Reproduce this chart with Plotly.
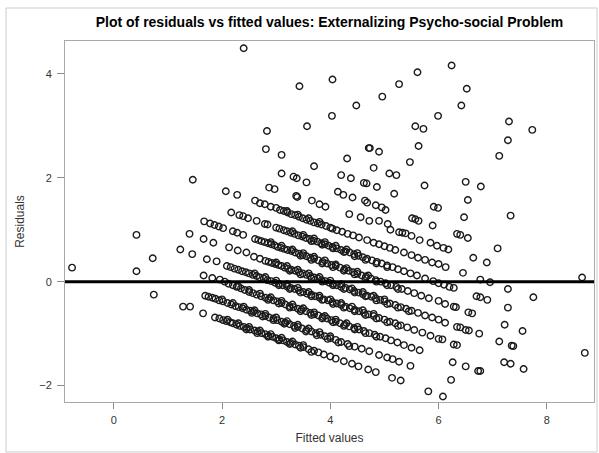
import plotly.graph_objects as go

# ---- data (fitted value, residual), grouped by band ----
fitted_b0 = [1.28, 1.41, 1.65, 1.87, 1.95, 2.02, 2.08, 2.15, 2.20, 2.27, 2.33, 2.40, 2.46, 2.52, 2.60, 2.66, 2.73, 2.80, 2.86, 2.93, 3.00, 3.06, 3.13, 3.20, 3.27, 3.35, 3.42, 3.50, 3.60, 3.70, 3.78, 3.88, 4.00, 4.10, 4.25, 4.40, 4.52, 4.70, 4.84, 5.14, 5.30, 5.81, 6.08,
             2.10, 2.30, 2.50, 2.70, 2.90, 3.10, 3.30, 3.50]
resid_b0 = [-0.48, -0.48, -0.61, -0.69, -0.71, -0.74, -0.76, -0.78, -0.80, -0.83, -0.85, -0.87, -0.89, -0.92, -0.94, -0.96, -0.99, -1.01, -1.04, -1.06, -1.09, -1.11, -1.13, -1.16, -1.18, -1.21, -1.23, -1.26, -1.30, -1.33, -1.36, -1.40, -1.44, -1.48, -1.53, -1.58, -1.63, -1.69, -1.74, -1.85, -1.90, -2.11, -2.21,
            -0.73, -0.80, -0.87, -0.94, -1.01, -1.08, -1.15, -1.22]

fitted_b1 = [1.69, 1.75, 1.82, 1.88, 1.95, 2.02, 2.10, 2.17, 2.25, 2.31, 2.38, 2.45, 2.52, 2.58, 2.65, 2.72, 2.80, 2.87, 2.95, 3.02, 3.10, 3.17, 3.25, 3.33, 3.40, 3.48, 3.56, 3.65, 3.73, 3.82, 3.90, 4.00, 4.10, 4.20, 4.32, 4.45, 4.58, 4.72, 4.90, 5.05, 5.15, 5.27, 5.48, 6.23,
             2.00, 2.20, 2.40, 2.60, 2.80, 3.00, 3.20, 3.40, 3.60, 3.80, 4.00]
resid_b1 = [-0.27, -0.29, -0.31, -0.33, -0.36, -0.38, -0.41, -0.44, -0.47, -0.49, -0.51, -0.54, -0.56, -0.58, -0.61, -0.63, -0.66, -0.69, -0.71, -0.74, -0.77, -0.79, -0.82, -0.85, -0.87, -0.90, -0.93, -0.96, -0.99, -1.02, -1.05, -1.09, -1.12, -1.16, -1.20, -1.25, -1.29, -1.34, -1.41, -1.46, -1.49, -1.54, -1.62, -1.89,
            -0.34, -0.41, -0.48, -0.55, -0.62, -0.69, -0.76, -0.83, -0.90, -0.97, -1.05]

fitted_b2 = [1.66, 1.82, 1.96, 2.05, 2.12, 2.20, 2.27, 2.35, 2.42, 2.50, 2.57, 2.64, 2.72, 2.80, 2.87, 2.95, 3.02, 3.10, 3.17, 3.25, 3.32, 3.40, 3.47, 3.55, 3.63, 3.70, 3.78, 3.86, 3.94, 4.02, 4.10, 4.18, 4.27, 4.35, 4.44, 4.53, 4.62, 4.72, 4.82, 4.92, 5.02, 5.12, 5.24, 5.36, 5.50, 5.65, 6.26, 6.50, 6.73, 6.77,
             2.30, 2.50, 2.70, 2.90, 3.10, 3.30, 3.50, 3.70, 3.90, 4.10, 4.30, 4.50]
resid_b2 = [0.12, 0.07, 0.04, 0.00, -0.04, -0.07, -0.10, -0.13, -0.16, -0.20, -0.22, -0.25, -0.28, -0.31, -0.33, -0.36, -0.38, -0.41, -0.44, -0.47, -0.49, -0.52, -0.54, -0.57, -0.60, -0.63, -0.65, -0.68, -0.71, -0.74, -0.77, -0.80, -0.83, -0.86, -0.89, -0.92, -0.95, -0.99, -1.02, -1.06, -1.09, -1.13, -1.17, -1.22, -1.27, -1.32, -1.55, -1.63, -1.72, -1.72,
            -0.09, -0.16, -0.23, -0.30, -0.37, -0.44, -0.51, -0.59, -0.66, -0.73, -0.80, -0.87]

fitted_b3 = [1.23, 1.45, 1.72, 1.90, 2.09, 2.16, 2.23, 2.30, 2.37, 2.44, 2.50, 2.57, 2.64, 2.70, 2.77, 2.84, 2.91, 2.98, 3.05, 3.12, 3.20, 3.27, 3.34, 3.42, 3.50, 3.57, 3.65, 3.72, 3.80, 3.88, 3.96, 4.04, 4.12, 4.20, 4.28, 4.36, 4.45, 4.53, 4.62, 4.70, 4.80, 4.90, 5.00, 5.10, 5.20, 5.30, 5.42, 5.55, 5.70, 5.85, 6.00, 6.07, 6.28, 6.34, 7.21, 7.33, 7.57,
             2.60, 2.80, 3.00, 3.20, 3.40, 3.60, 3.80, 4.00, 4.20, 4.40, 4.60, 4.80]
resid_b3 = [0.62, 0.53, 0.43, 0.39, 0.30, 0.28, 0.25, 0.23, 0.20, 0.18, 0.16, 0.13, 0.11, 0.08, 0.06, 0.03, 0.01, -0.02, -0.04, -0.07, -0.09, -0.12, -0.14, -0.17, -0.20, -0.23, -0.25, -0.28, -0.31, -0.34, -0.36, -0.39, -0.42, -0.45, -0.48, -0.51, -0.54, -0.57, -0.60, -0.63, -0.66, -0.70, -0.73, -0.77, -0.80, -0.84, -0.88, -0.93, -0.98, -1.04, -1.10, -1.11, -1.21, -1.22, -1.55, -1.58, -1.68,
            0.16, 0.09, 0.02, -0.05, -0.12, -0.20, -0.27, -0.34, -0.41, -0.48, -0.55, -0.62]

fitted_b4 = [1.40, 1.66, 1.84, 2.13, 2.29, 2.45, 2.59, 2.70, 2.80, 2.86, 2.92, 2.98, 3.04, 3.10, 3.16, 3.22, 3.28, 3.35, 3.42, 3.49, 3.56, 3.63, 3.70, 3.77, 3.84, 3.91, 3.98, 4.05, 4.12, 4.20, 4.28, 4.36, 4.44, 4.52, 4.60, 4.68, 4.76, 4.84, 4.92, 5.00, 5.10, 5.20, 5.30, 5.40, 5.50, 5.62, 5.75, 5.88, 6.00, 6.12, 6.34, 6.40, 6.50, 6.56, 6.75, 7.12, 7.35, 7.38,
             3.00, 3.20, 3.40, 3.60, 3.80, 4.00, 4.20, 4.40, 4.60, 4.80, 5.00]
resid_b4 = [0.92, 0.82, 0.75, 0.66, 0.60, 0.56, 0.48, 0.44, 0.40, 0.38, 0.36, 0.34, 0.32, 0.30, 0.27, 0.25, 0.23, 0.21, 0.18, 0.16, 0.13, 0.11, 0.08, 0.06, 0.03, 0.01, -0.02, -0.04, -0.07, -0.10, -0.12, -0.15, -0.18, -0.21, -0.24, -0.27, -0.29, -0.32, -0.35, -0.38, -0.42, -0.45, -0.49, -0.52, -0.56, -0.60, -0.65, -0.69, -0.73, -0.79, -0.87, -0.88, -0.93, -0.94, -1.00, -1.15, -1.23, -1.24,
            0.37, 0.30, 0.23, 0.16, 0.09, 0.02, -0.05, -0.13, -0.20, -0.27, -0.34]

fitted_b5 = [1.67, 1.78, 1.86, 1.94, 2.02, 2.20, 2.28, 2.39, 2.61, 2.67, 2.73, 2.79, 2.85, 2.91, 2.97, 3.03, 3.09, 3.15, 3.21, 3.28, 3.35, 3.42, 3.49, 3.56, 3.63, 3.70, 3.78, 3.86, 3.94, 4.02, 4.10, 4.18, 4.26, 4.34, 4.42, 4.50, 4.58, 4.66, 4.75, 4.84, 4.93, 5.02, 5.12, 5.22, 5.32, 5.43, 5.55, 5.68, 5.82, 6.00, 6.12, 6.28, 6.32, 6.55, 6.62, 7.22, 7.55,
             2.90, 3.10, 3.30, 3.50, 3.70, 3.90, 4.10, 4.30, 4.50, 4.70]
resid_b5 = [1.16, 1.12, 1.09, 1.06, 1.03, 0.97, 0.94, 0.90, 0.82, 0.80, 0.78, 0.76, 0.74, 0.72, 0.70, 0.67, 0.65, 0.63, 0.61, 0.59, 0.56, 0.54, 0.51, 0.49, 0.46, 0.44, 0.41, 0.38, 0.35, 0.32, 0.30, 0.27, 0.24, 0.21, 0.18, 0.15, 0.12, 0.10, 0.06, 0.03, 0.00, -0.03, -0.07, -0.10, -0.14, -0.18, -0.22, -0.27, -0.32, -0.37, -0.43, -0.48, -0.49, -0.59, -0.61, -0.83, -0.95,
            0.76, 0.69, 0.62, 0.55, 0.48, 0.41, 0.33, 0.26, 0.19, 0.12]

fitted_b6 = [2.17, 2.32, 2.39, 2.48, 2.64, 2.79, 2.84, 3.00, 3.06, 3.14, 3.20, 3.27, 3.34, 3.41, 3.48, 3.55, 3.62, 3.69, 3.76, 3.83, 3.90, 3.97, 4.04, 4.12, 4.20, 4.28, 4.36, 4.44, 4.52, 4.60, 4.68, 4.77, 4.86, 4.95, 5.05, 5.15, 5.25, 5.36, 5.48, 5.60, 5.75, 5.90, 6.00, 6.10, 6.20, 6.28, 6.70, 6.77, 6.90, 7.28,
             3.30, 3.50, 3.70, 3.90, 4.10, 4.30, 4.50]
resid_b6 = [1.33, 1.28, 1.26, 1.22, 1.17, 1.11, 1.10, 1.04, 1.02, 0.99, 0.97, 0.94, 0.92, 0.89, 0.87, 0.84, 0.82, 0.79, 0.77, 0.74, 0.72, 0.69, 0.67, 0.64, 0.61, 0.58, 0.56, 0.53, 0.50, 0.47, 0.44, 0.41, 0.38, 0.35, 0.31, 0.28, 0.24, 0.20, 0.16, 0.12, 0.06, 0.01, -0.03, -0.06, -0.10, -0.12, -0.28, -0.30, -0.35, -0.50,
            0.97, 0.90, 0.83, 0.76, 0.69, 0.62, 0.55]

fitted_b7 = [1.46, 2.07, 2.28, 2.61, 2.70, 2.79, 2.90, 3.00, 3.07, 3.14, 3.21, 3.28, 3.35, 3.42, 3.49, 3.56, 3.63, 3.70, 3.77, 3.84, 3.92, 4.00, 4.04, 4.12, 4.22, 4.32, 4.42, 4.53, 4.68, 4.80, 4.90, 5.00, 5.10, 5.20, 5.36, 5.50, 5.62, 5.75, 5.88, 6.00, 6.13, 6.45, 6.77, 6.95, 7.28, 7.75,
             3.20, 3.40, 3.60, 3.80]
resid_b7 = [1.96, 1.74, 1.67, 1.56, 1.51, 1.49, 1.44, 1.42, 1.38, 1.36, 1.33, 1.30, 1.28, 1.25, 1.22, 1.19, 1.17, 1.14, 1.12, 1.10, 1.07, 1.04, 1.02, 0.99, 0.96, 0.92, 0.89, 0.85, 0.80, 0.75, 0.72, 0.68, 0.65, 0.61, 0.56, 0.51, 0.46, 0.42, 0.37, 0.34, 0.28, 0.17, 0.04, -0.01, -0.14, -0.30,
            1.36, 1.29, 1.22, 1.15]

fitted_b8 = [2.87, 2.97, 3.37, 3.39, 3.66, 3.80, 3.91, 4.35, 4.56, 4.72, 4.90, 5.06, 5.11, 5.27, 5.33, 5.39, 5.50, 5.65, 5.85, 5.97, 6.09, 6.18, 6.64, 6.89]
resid_b8 = [1.81, 1.78, 1.65, 1.63, 1.56, 1.49, 1.44, 1.30, 1.24, 1.17, 1.17, 1.11, 1.00, 0.95, 0.94, 0.93, 0.88, 0.80, 0.75, 0.69, 0.65, 0.62, 0.46, 0.37]

fitted_b9 = [3.10, 3.32, 3.38, 3.56, 4.14, 4.24, 4.41, 4.64, 4.68, 4.84, 4.95, 5.02, 5.51, 5.57, 5.63, 5.89, 6.34, 6.40, 6.54, 7.09]
resid_b9 = [2.08, 2.02, 1.99, 1.91, 1.73, 1.67, 1.62, 1.56, 1.52, 1.47, 1.43, 1.38, 1.22, 1.20, 1.17, 1.08, 0.92, 0.90, 0.84, 0.64]

fitted_b10 = [2.81, 3.10, 3.70, 4.20, 4.38, 4.62, 4.67, 4.86, 5.18, 5.91, 5.99, 6.47]
resid_b10 = [2.55, 2.44, 2.22, 2.05, 1.99, 1.90, 1.89, 1.82, 1.69, 1.44, 1.42, 1.24]

# second row of overlapping points that thickens the dense middle of the bands
fitted_dense = [2.45, 2.65, 2.85, 3.05, 3.25, 3.45, 3.65,
                2.55, 2.75, 2.95, 3.15, 3.35, 3.55, 3.75, 3.95, 4.15, 4.35,
                2.85, 3.05, 3.25, 3.45, 3.65, 3.85, 4.05, 4.25, 4.45, 4.65, 4.85,
                3.05, 3.25, 3.45, 3.65, 3.85, 4.05, 4.25, 4.45, 4.65, 4.85, 5.05, 5.25,
                3.25, 3.45, 3.65, 3.85, 4.05, 4.25, 4.45, 4.65, 4.85, 5.05, 5.25, 5.45,
                3.45, 3.65, 3.85, 4.05, 4.25, 4.45, 4.65, 4.85, 5.05, 5.25,
                3.65, 3.85, 4.05, 4.25, 4.45, 4.65, 4.85, 5.05]
resid_dense = [-0.92, -0.99, -1.06, -1.13, -1.20, -1.27, -1.35,
               -0.60, -0.67, -0.74, -0.81, -0.89, -0.96, -1.03, -1.10, -1.17, -1.24,
               -0.35, -0.42, -0.50, -0.57, -0.64, -0.71, -0.78, -0.85, -0.92, -0.99, -1.06,
               -0.07, -0.14, -0.21, -0.28, -0.35, -0.43, -0.50, -0.57, -0.64, -0.71, -0.78, -0.85,
               0.21, 0.14, 0.07, 0.00, -0.07, -0.14, -0.21, -0.28, -0.36, -0.43, -0.50, -0.57,
               0.50, 0.42, 0.35, 0.28, 0.21, 0.14, 0.07, 0.00, -0.07, -0.14,
               0.78, 0.71, 0.64, 0.57, 0.49, 0.42, 0.35, 0.28]

fitted_upper = [2.83, 4.31, 4.80, 5.09, 5.22, 5.74, 6.54, 7.33,
                3.57, 4.71, 4.73, 4.90, 5.47, 6.50, 6.78,
                4.03, 5.63, 3.43, 4.48, 5.57, 5.72, 7.12,
                2.40, 4.04, 4.96, 5.99, 7.28, 5.27, 6.42, 7.30, 7.73,
                5.61, 6.52, 6.24]
resid_upper = [2.90, 2.37, 2.19, 2.08, 2.05, 1.85, 1.57, 1.27,
               2.99, 2.57, 2.57, 2.50, 2.30, 1.92, 1.83,
               3.19, 2.61, 3.76, 3.39, 2.99, 2.94, 2.42,
               4.49, 3.89, 3.56, 3.19, 2.72, 3.80, 3.39, 3.08, 2.92,
               4.03, 3.71, 4.16]

fitted_outlying = [-0.77, 0.42, 0.42, 0.72, 0.74, 8.65, 8.70]
resid_outlying = [0.27, 0.90, 0.20, 0.45, -0.25, 0.08, -1.37]

x_ticks = [0, 2, 4, 6, 8]
y_ticks = [-2, 0, 2, 4]

fitted_all = (fitted_b0 + fitted_b1 + fitted_b2 + fitted_b3 + fitted_b4 + fitted_b5 +
              fitted_b6 + fitted_b7 + fitted_b8 + fitted_b9 + fitted_b10 +
              fitted_dense + fitted_upper + fitted_outlying)
resid_all = (resid_b0 + resid_b1 + resid_b2 + resid_b3 + resid_b4 + resid_b5 +
             resid_b6 + resid_b7 + resid_b8 + resid_b9 + resid_b10 +
             resid_dense + resid_upper + resid_outlying)

FONT = "Liberation Sans, Arial, Helvetica, sans-serif"

fig = go.Figure()
fig.add_trace(go.Scatter(
    x=fitted_all, y=resid_all, mode="markers",
    marker=dict(symbol="circle-open", size=6.5, color="#1a1a1a", line=dict(width=1.4, color="#1a1a1a")),
    showlegend=False, hoverinfo="x+y",
))

fig.update_layout(
    width=599, height=453,
    margin=dict(l=65, r=5, t=41, b=51),
    paper_bgcolor="white", plot_bgcolor="white",
    font=dict(family=FONT, size=11, color="#333333"),
    title=dict(text="Plot of residuals vs fitted values: Externalizing Psycho-social Problem",
               x=0.5, xref="paper", xanchor="center",
               y=1 - 22 / 453, yref="container", yanchor="middle",
               font=dict(family=FONT, size=14, color="#000000", weight="bold")),
    xaxis=dict(range=[-0.90, 8.87], tickvals=x_ticks, ticks="outside", ticklen=6,
               tickcolor="#8c8c8c", showline=True, linecolor="#a8a8a8", linewidth=1,
               mirror=True, showgrid=False, zeroline=False, ticklabelstandoff=2,
               tickfont=dict(size=11, color="#333333"),
               title=dict(text="Fitted values", font=dict(size=12, color="#333333"), standoff=8)),
    yaxis=dict(range=[-2.315, 4.63], tickvals=y_ticks, ticks="outside", ticklen=7,
               tickcolor="#8c8c8c", showline=True, linecolor="#a8a8a8", linewidth=1,
               mirror=True, showgrid=False, zeroline=False, ticklabelstandoff=3,
               tickfont=dict(size=11, color="#333333"),
               title=dict(text="Residuals", font=dict(size=12, color="#333333"), standoff=12)),
    shapes=[
        dict(type="line", xref="paper", x0=0, x1=1, yref="y", y0=0, y1=0,
             line=dict(color="black", width=3), layer="above"),
        dict(type="rect", xref="paper", yref="paper",
             x0=-0.1115, x1=1.0057, y0=-0.1385, y1=1.0914,
             line=dict(color="#cccccc", width=1), layer="below"),
    ],
)

fig.write_html("out.html")
